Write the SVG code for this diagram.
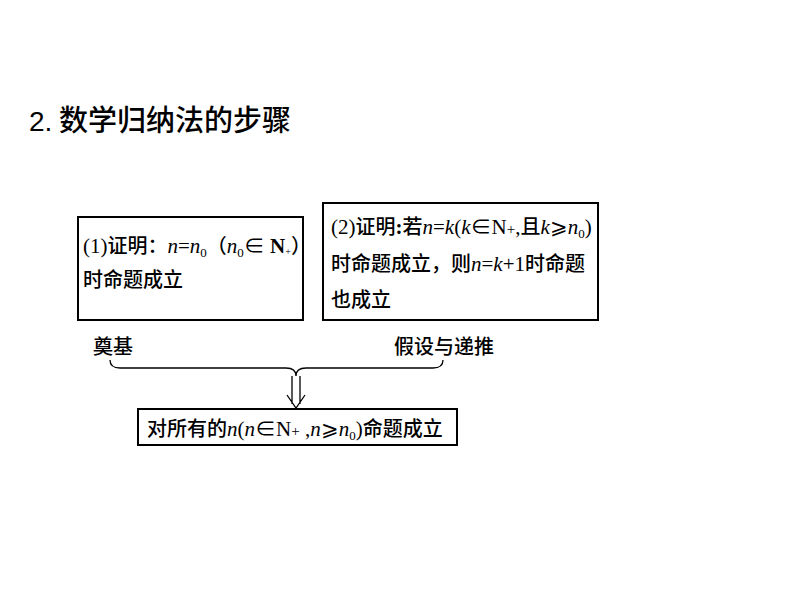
<svg xmlns="http://www.w3.org/2000/svg" width="794" height="596" viewBox="0 0 794 596">
<style>
.t{font-family:"Liberation Serif","Noto Sans CJK SC",serif;font-size:21px;fill:#000}
.c{font-family:"Noto Sans CJK SC",sans-serif;font-weight:500;font-size:20px}
.i{font-style:italic}
.b{font-weight:bold}
.box{fill:#fff;stroke:#000;stroke-width:2}
.ln{fill:none;stroke:#000;stroke-width:1.3}
</style>
<rect width="794" height="596" fill="#fff"/>
<g id="title">
<text x="29" y="131" style="font-family:'Liberation Sans','Noto Sans CJK SC',sans-serif;font-size:28px"><tspan>2.</tspan><tspan class="c" font-weight="bold" style="font-size:29px"> 数学归纳法的步骤</tspan></text>
</g>
<g id="step1">
<rect class="box" x="78" y="217" width="225" height="103"/>
<text class="t" x="83" y="253">(1)<tspan class="c">证明：</tspan><tspan class="i">n</tspan>=<tspan class="i">n</tspan><tspan font-size="13" dy="4">0</tspan><tspan dy="-4" class="c">（</tspan><tspan class="i">n</tspan><tspan font-size="13" dy="4">0</tspan><tspan dy="-4">∈</tspan><tspan class="b"> N</tspan><tspan font-size="10" dy="2">+</tspan><tspan dy="-2" class="c">）</tspan></text>
<text class="t c" x="83" y="287">时命题成立</text>
</g>
<g id="step2">
<rect class="box" x="323" y="203" width="275" height="117"/>
<text class="t" x="331" y="234">(2)<tspan class="c">证明</tspan><tspan class="b">:</tspan><tspan class="c">若</tspan><tspan class="i">n</tspan>=<tspan class="i">k</tspan>(<tspan class="i">k</tspan>∈N<tspan font-size="15">+</tspan>,<tspan class="c">且</tspan><tspan class="i">k</tspan>⩾<tspan class="i">n</tspan><tspan font-size="13" dy="4">0</tspan><tspan dy="-4">)</tspan></text>
<text class="t" x="331" y="271"><tspan class="c">时命题成立，则</tspan><tspan class="i">n</tspan>=<tspan class="i">k</tspan>+1<tspan class="c">时命题</tspan></text>
<text class="t c" x="331" y="307">也成立</text>
</g>
<g id="label-base">
<text class="t c" x="93" y="354">奠基</text>
</g>
<g id="label-induct">
<text class="t c" x="394" y="354">假设与递推</text>
</g>
<g id="connectors">
<path class="ln" d="M110,360 Q110,368 120,368 L286,368 Q296,368 296,376 Q296,368 306,368 L433,368 Q443,368 443,360"/>
<path class="ln" d="M292,376 L292,404 M300,376 L300,404 M287,395 L296,408 L305,395"/>
</g>
<g id="conclusion">
<rect class="box" x="138" y="409" width="319" height="36"/>
<text class="t" x="147" y="436"><tspan class="c">对所有的</tspan><tspan class="i">n</tspan>(<tspan class="i">n</tspan>∈N<tspan font-size="15">+</tspan> ,<tspan class="i">n</tspan>⩾<tspan class="i">n</tspan><tspan font-size="13" dy="4">0</tspan><tspan dy="-4">)</tspan><tspan class="c">命题成立</tspan></text>
</g>
</svg>
